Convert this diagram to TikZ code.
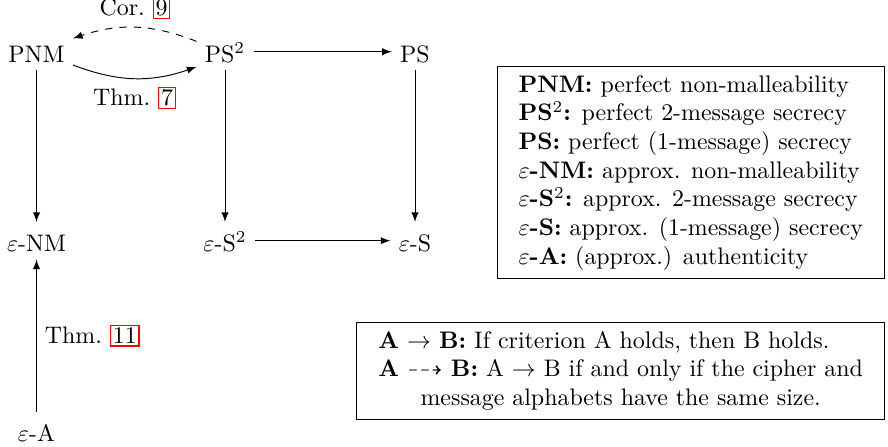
\documentclass[tikz,border=0pt]{standalone}
\usepackage{amssymb}
\usetikzlibrary{arrows}
\newcommand\lnkbox[1]{{\setlength\fboxsep{0.7pt}\setlength\fboxrule{0.5pt}\fcolorbox{red}{white}{#1}}}
\begin{document}
\begin{tikzpicture}[x=0.4184pt,y=-0.4184pt, >=latex,
  crit/.style={anchor=base, text height=8.6pt, text depth=0pt},
  legend/.style={draw, anchor=north east, inner xsep=9pt, inner ysep=2.3pt, line width=0.45pt}]
\useasboundingbox (0,0) rectangle (888,446);
\node[crit] (PNM) at (36.5,62) {PNM};
\node[crit] (PS2) at (225,62) {PS$^2$};
\node[crit] (PS)  at (415,62) {PS};
\node[crit] (eNM) at (36.5,251) {$\varepsilon$-NM};
\node[crit] (eS2) at (225,251) {$\varepsilon$-S$^2$};
\node[crit] (eS)  at (415,251) {$\varepsilon$-S};
\node[crit] (eA)  at (36.5,441) {$\varepsilon$-A};
\draw[->] (PNM) -- (eNM);
\draw[->] (PS2) -- (eS2);
\draw[->] (PS) -- (eS);
\draw[->] (PS2) -- (PS);
\draw[->] (eS2) -- (eS);
\draw[->] (eA) -- node[right]{Thm.~\lnkbox{11}} (eNM);
\draw[->] (PNM.-20) to[bend right=20] node[below]{Thm.~\lnkbox{7}} (PS2.208);
\draw[->,dashed] (PS2.160) to[bend right=20] node[above]{Cor.~\lnkbox{9}} (PNM.20);
\node[legend] (leg1) at (885,66) {\begin{tabular}{@{}l@{}}
\textbf{PNM:} perfect non-malleability\\
\textbf{PS}$^2$\textbf{:} perfect 2-message secrecy\\
\textbf{PS:} perfect (1-message) secrecy\\
$\varepsilon$\textbf{-NM:} approx. non-malleability\\
$\varepsilon$\textbf{-S}$^2$\textbf{:} approx. 2-message secrecy\\
$\varepsilon$\textbf{-S:} approx. (1-message) secrecy\\
$\varepsilon$\textbf{-A:} (approx.) authenticity
\end{tabular}};
\node[legend] (leg2) at (885,322) {\begin{tabular}{@{}l@{}}
\textbf{A} $\rightarrow$ \textbf{B:} If criterion A holds, then B holds.\\
\textbf{A} $\dashrightarrow$ \textbf{B:} A $\rightarrow$ B if and only if the cipher and\\
\multicolumn{1}{@{}c@{}}{message alphabets have the same size.}
\end{tabular}};
\end{tikzpicture}
\end{document}
